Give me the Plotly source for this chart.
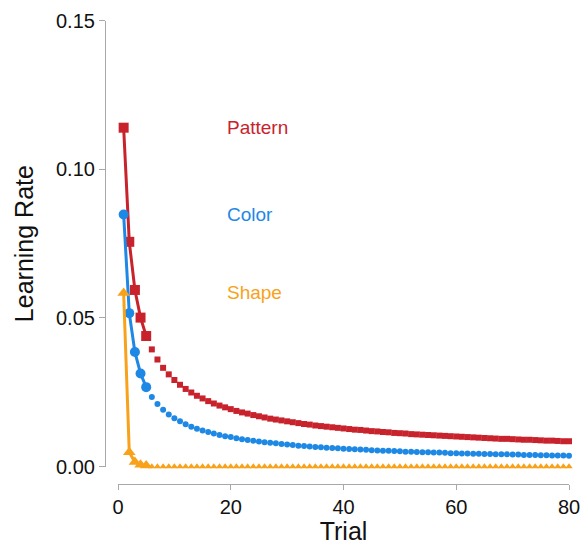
import plotly.graph_objects as go

# ---- data ----
trials = list(range(1, 81))

pattern = [0.1140, 0.0756, 0.0594, 0.0501, 0.0439, 0.0394, 0.0360, 0.0332, 0.0310, 0.0291,
           0.0275, 0.0261, 0.0249, 0.0238, 0.0229, 0.0220, 0.0212, 0.0205, 0.0199, 0.0193,
           0.0187, 0.0182, 0.0178, 0.0173, 0.0169, 0.0165, 0.0161, 0.0158, 0.0155, 0.0152,
           0.0149, 0.0146, 0.0143, 0.0141, 0.0138, 0.0136, 0.0134, 0.0132, 0.0130, 0.0128,
           0.0126, 0.0124, 0.0123, 0.0121, 0.0119, 0.0118, 0.0116, 0.0115, 0.0113, 0.0112,
           0.0111, 0.0109, 0.0108, 0.0107, 0.0106, 0.0105, 0.0104, 0.0103, 0.0102, 0.0101,
           0.0100, 0.0099, 0.0098, 0.0097, 0.0096, 0.0095, 0.0094, 0.0093, 0.0093, 0.0092,
           0.0091, 0.0090, 0.0090, 0.0089, 0.0088, 0.0087, 0.0087, 0.0086, 0.0085, 0.0085]

color = [0.0848, 0.0516, 0.0385, 0.0313, 0.0267, 0.0234, 0.0210, 0.0191, 0.0175, 0.0162,
         0.0152, 0.0142, 0.0134, 0.0127, 0.0121, 0.0116, 0.0111, 0.0106, 0.0102, 0.0099,
         0.0095, 0.0092, 0.0089, 0.0087, 0.0084, 0.0082, 0.0080, 0.0078, 0.0076, 0.0074,
         0.0072, 0.0070, 0.0069, 0.0067, 0.0066, 0.0065, 0.0063, 0.0062, 0.0061, 0.0060,
         0.0059, 0.0058, 0.0057, 0.0056, 0.0055, 0.0054, 0.0053, 0.0053, 0.0052, 0.0051,
         0.0050, 0.0050, 0.0049, 0.0048, 0.0048, 0.0047, 0.0047, 0.0046, 0.0045, 0.0045,
         0.0044, 0.0044, 0.0043, 0.0043, 0.0042, 0.0042, 0.0041, 0.0041, 0.0041, 0.0040,
         0.0040, 0.0039, 0.0039, 0.0039, 0.0038, 0.0038, 0.0037, 0.0037, 0.0037, 0.0036]

shape = [0.0584, 0.0048, 0.0015, 0.0006, 0.0003] + [0.0] * 75

series_names = ["Pattern", "Color", "Shape"]
x_ticks = [0, 20, 40, 60, 80]
y_ticks = [0.00, 0.05, 0.10, 0.15]

# ---- styling ----
colors = {"Pattern": "#c8232c", "Color": "#1e88e5", "Shape": "#f8a21c"}
symbols = {"Pattern": "square", "Color": "circle", "Shape": "triangle-up"}
big_size = {"Pattern": 10, "Color": 10, "Shape": 11}
small_size = {"Pattern": 6, "Color": 6, "Shape": 6.5}
values = {"Pattern": pattern, "Color": color, "Shape": shape}
n_head = 5
font_family = "Liberation Sans, Arial"
text_color = "#111111"

W, H = 587, 545
fig = go.Figure()
for name in series_names:
    v = values[name]
    c = colors[name]
    fig.add_trace(go.Scatter(
        x=trials[:n_head], y=v[:n_head], mode="lines+markers",
        line=dict(color=c, width=3),
        marker=dict(symbol=symbols[name], size=big_size[name], color=c),
        cliponaxis=False, showlegend=False, hoverinfo="skip"))
    fig.add_trace(go.Scatter(
        x=trials[n_head:], y=v[n_head:], mode="markers",
        marker=dict(symbol=symbols[name], size=small_size[name], color=c),
        cliponaxis=False, showlegend=False, hoverinfo="skip"))
    fig.add_annotation(x=19.0, y=v[0], text=name, showarrow=False,
                       xanchor="left", yanchor="middle",
                       font=dict(size=19, color=c, family=font_family))

axis_grey = "#a8a8a8"
fig.update_layout(
    width=W, height=H,
    margin=dict(l=0, r=0, t=0, b=0),
    paper_bgcolor="white", plot_bgcolor="white",
    font=dict(family=font_family, color=text_color),
    xaxis=dict(
        domain=[118 / W, 569 / W], range=[0, 80],
        anchor="free", position=1 - 483.5 / H,
        tickvals=x_ticks, ticktext=[str(t) for t in x_ticks],
        showline=True, linecolor=axis_grey, linewidth=1.2,
        ticks="outside", ticklen=5, tickcolor=axis_grey, tickwidth=1,
        showgrid=False, zeroline=False,
        tickfont=dict(size=20, color=text_color),
        title=dict(text="Trial", font=dict(size=25, color=text_color), standoff=8),
        automargin=False,
    ),
    yaxis=dict(
        domain=[1 - 466.5 / H, 1 - 20.7 / H], range=[0, 0.15],
        anchor="free", position=105 / W,
        tickvals=y_ticks, ticktext=[f"{t:.2f}" for t in y_ticks],
        showline=True, linecolor=axis_grey, linewidth=1.2,
        ticks="outside", ticklen=6, tickcolor=axis_grey, tickwidth=1,
        showgrid=False, zeroline=False,
        tickfont=dict(size=20, color=text_color),
        title=dict(text="Learning Rate", font=dict(size=25, color=text_color), standoff=14),
        automargin=False,
    ),
)

fig.write_html("out.html", config={"displayModeBar": False},
               post_script="document.body.style.margin='0px';")
